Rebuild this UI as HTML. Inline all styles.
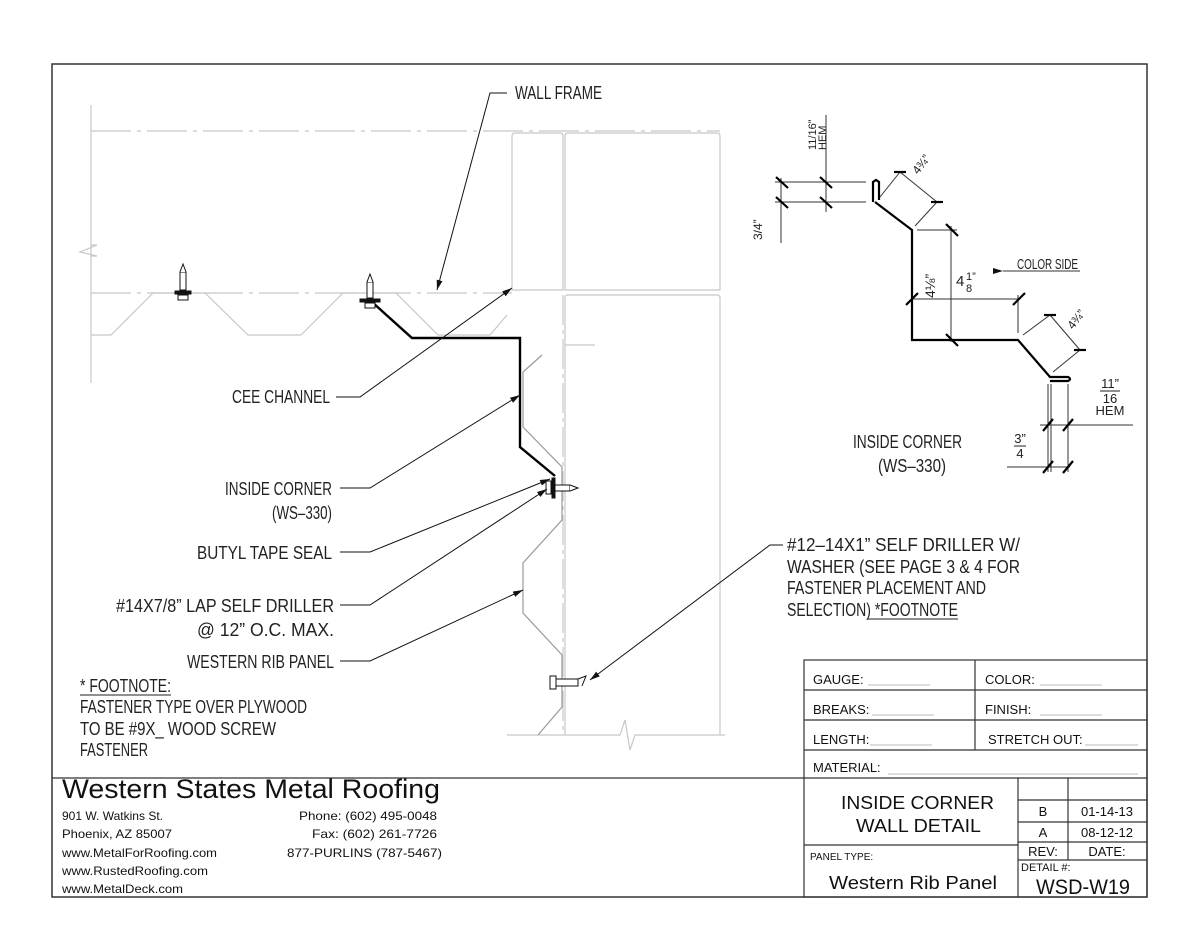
<!DOCTYPE html>
<html><head><meta charset="utf-8"><style>
html,body{margin:0;padding:0;background:#fff}
svg{display:block}
.c{font-family:"Liberation Sans",sans-serif;font-size:18px;fill:#222}
.s{font-family:"Liberation Sans",sans-serif;fill:#111}
</style></head><body>
<svg width="1200" height="927" viewBox="0 0 1200 927" xmlns="http://www.w3.org/2000/svg">
<defs>
<marker id="ar" viewBox="0 0 10 6" refX="10" refY="3" markerWidth="10" markerHeight="6" markerUnits="userSpaceOnUse" orient="auto"><path d="M0,0 L10,3 L0,6 z" fill="#111"/></marker>
</defs>
<rect x="52" y="64" width="1095" height="833" fill="none" stroke="#333" stroke-width="1.5"/>

<g stroke="#c8c8c8" stroke-width="1.2" fill="none">
<line x1="91" y1="105" x2="91" y2="383"/>
<path d="M91,245 L97,245 L80,252 L97,256 L91,256"/>
<line x1="91" y1="131" x2="720" y2="131" stroke-dasharray="40,6,4,6"/>
<line x1="91" y1="293" x2="512" y2="293" stroke-dasharray="40,6,4,6"/>
<path d="M91,335 L111,335 L153,293 L205,293 L248,335 L301,335 L343,293 L396,293 L438,335 L490,335 L507,315"/>
<path d="M512,290 L512,136 Q512,133 515,133 L560,133 Q563,133 563,136 L563,290 Z"/>
<path d="M565,290 L565,136 Q565,133 568,133 L717,133 Q720,133 720,136 L720,290 Z"/>
<path d="M565,735 L565,298 Q565,295 568,295 L717,295 Q720,295 720,298 L720,735"/>
<line x1="565" y1="345" x2="595" y2="345"/>
<line x1="563" y1="295" x2="563" y2="735" stroke-dasharray="30,5,4,5"/>
<path d="M507,735 L620,735 L625,720 L630,750 L635,735 L725,735"/>
</g>
<g stroke="#999" stroke-width="1.2" fill="none">
<path d="M542,355 L523,372 L523,427 L562,467 L562,520 L523,563 L523,613 L562,655 L562,707 L538,735"/>
</g>

<path d="M372,302 L412,338 L520,338 L520,447 L555,476" fill="none" stroke="#000" stroke-width="2.4"/>

<g stroke="#111" stroke-width="1" fill="#fff">
<rect x="180" y="272" width="6" height="18"/><path d="M180,272 L183,264 L186,272"/>
<rect x="175" y="291" width="16" height="3" fill="#111"/><rect x="178" y="295" width="10" height="5"/>
<rect x="367" y="282" width="6" height="16"/><path d="M367,282 L370,274 L373,282"/>
<rect x="360" y="299" width="20" height="3" fill="#111"/><rect x="365" y="303" width="10" height="5"/>
<rect x="546" y="481" width="5" height="13"/><rect x="552" y="478" width="3" height="20" fill="#111"/>
<rect x="555" y="485" width="15" height="6"/><path d="M570,485 L578,488 L570,491"/>
<rect x="550" y="676" width="6" height="13"/><rect x="556" y="679" width="22" height="7"/><path d="M578,679 L586,676 L582,686"/>
</g>

<g stroke="#111" stroke-width="1" fill="none">
<path d="M507,93 L490,93 L437,290" marker-end="url(#ar)"/>
<path d="M336,397 L360,397 L512,288" marker-end="url(#ar)"/>
<path d="M340,488 L370,488 L520,395" marker-end="url(#ar)"/>
<path d="M340,552 L370,552 L550,479" marker-end="url(#ar)"/>
<path d="M340,605 L370,605 L547,489" marker-end="url(#ar)"/>
<path d="M340,661 L370,661 L523,590" marker-end="url(#ar)"/>
<path d="M783,545 L770,545 L590,680" marker-end="url(#ar)"/>
</g>

<g class="c">
<text x="515" y="99" textLength="87" lengthAdjust="spacingAndGlyphs">WALL FRAME</text>
<text x="232" y="403" textLength="98" lengthAdjust="spacingAndGlyphs">CEE CHANNEL</text>
<text x="225" y="495" textLength="107" lengthAdjust="spacingAndGlyphs">INSIDE CORNER</text>
<text x="272" y="519" textLength="60" lengthAdjust="spacingAndGlyphs">(WS–330)</text>
<text x="197" y="559" textLength="135" lengthAdjust="spacingAndGlyphs">BUTYL TAPE SEAL</text>
<text x="116" y="612" textLength="218" lengthAdjust="spacingAndGlyphs">#14X7/8” LAP SELF DRILLER</text>
<text x="197" y="636" textLength="137" lengthAdjust="spacingAndGlyphs">@ 12” O.C. MAX.</text>
<text x="187" y="668" textLength="147" lengthAdjust="spacingAndGlyphs">WESTERN RIB PANEL</text>
<text x="80" y="692" textLength="91" lengthAdjust="spacingAndGlyphs">* FOOTNOTE:</text>
<text x="80" y="713" textLength="227" lengthAdjust="spacingAndGlyphs">FASTENER TYPE OVER PLYWOOD</text>
<text x="80" y="735" textLength="196" lengthAdjust="spacingAndGlyphs">TO BE #9X_ WOOD SCREW</text>
<text x="80" y="756" textLength="68" lengthAdjust="spacingAndGlyphs">FASTENER</text>
<text x="787" y="551" textLength="233" lengthAdjust="spacingAndGlyphs">#12–14X1” SELF DRILLER W/</text>
<text x="787" y="573" textLength="233" lengthAdjust="spacingAndGlyphs">WASHER (SEE PAGE 3 &amp; 4 FOR</text>
<text x="787" y="594" textLength="199" lengthAdjust="spacingAndGlyphs">FASTENER PLACEMENT AND</text>
<text x="787" y="616" textLength="171" lengthAdjust="spacingAndGlyphs">SELECTION) *FOOTNOTE</text>
</g>
<line x1="80" y1="695" x2="171" y2="695" stroke="#222"/>
<line x1="868" y1="619" x2="958" y2="619" stroke="#222"/>

<g fill="none" stroke="#000" stroke-width="2.2">
<path d="M873,202 L873,182 L876,180 L879,182 L879,200"/>
<path d="M875,202 L912,230 L912,340 L1018,340 L1050,377 L1068,377 Q1072,379 1068,381 L1050,381"/>
</g>
<g fill="none" stroke="#333" stroke-width="1">
<line x1="775" y1="182" x2="866" y2="182"/><line x1="775" y1="202" x2="866" y2="202"/>
<line x1="781" y1="178" x2="781" y2="243"/><line x1="826" y1="115" x2="826" y2="212"/>
<line x1="880" y1="197" x2="900" y2="172"/><line x1="900" y1="172" x2="937" y2="202"/><line x1="915" y1="226" x2="937" y2="202"/>
<line x1="917" y1="230" x2="957" y2="230"/><line x1="951" y1="226" x2="951" y2="342"/>
<line x1="912" y1="299" x2="1020" y2="299"/><line x1="1018" y1="295" x2="1018" y2="333"/>
<line x1="1023" y1="335" x2="1050" y2="315"/><line x1="1050" y1="315" x2="1080" y2="350"/><line x1="1053" y1="372" x2="1080" y2="350"/>
<line x1="1048" y1="384" x2="1048" y2="472"/><line x1="1051" y1="384" x2="1051" y2="472"/><line x1="1068" y1="384" x2="1068" y2="472"/>
<line x1="1040" y1="425" x2="1133" y2="425"/><line x1="1007" y1="467" x2="1070" y2="467"/>
<line x1="1003" y1="271" x2="1080" y2="271" marker-start="url(#ar)"/>
</g>
<g stroke="#000" stroke-width="2.2">
<line x1="776" y1="177" x2="788" y2="188"/><line x1="776" y1="197" x2="788" y2="208"/>
<line x1="820" y1="177" x2="832" y2="188"/><line x1="820" y1="197" x2="832" y2="208"/>
<line x1="894" y1="172" x2="906" y2="172"/><line x1="931" y1="202" x2="943" y2="202"/>
<line x1="946" y1="224" x2="958" y2="236"/><line x1="946" y1="334" x2="958" y2="346"/>
<line x1="906" y1="305" x2="918" y2="293"/><line x1="1013" y1="305" x2="1025" y2="293"/>
<line x1="1044" y1="315" x2="1056" y2="315"/><line x1="1074" y1="350" x2="1086" y2="350"/>
<line x1="1043" y1="431" x2="1053" y2="419"/><line x1="1063" y1="431" x2="1073" y2="419"/>
<line x1="1043" y1="473" x2="1053" y2="461"/><line x1="1063" y1="473" x2="1073" y2="461"/>
</g>
<g class="c" font-size="13">
<text x="1017" y="269" font-size="15" textLength="61" lengthAdjust="spacingAndGlyphs">COLOR SIDE</text>
<text x="853" y="448" font-size="18" textLength="109" lengthAdjust="spacingAndGlyphs">INSIDE CORNER</text>
<text x="878" y="472" font-size="18" textLength="68" lengthAdjust="spacingAndGlyphs">(WS–330)</text>
<text x="1110" y="388" text-anchor="middle" font-size="13">11”</text>
<line x1="1100" y1="391" x2="1120" y2="391" stroke="#222"/>
<text x="1110" y="403" text-anchor="middle" font-size="13">16</text>
<text x="1110" y="415" text-anchor="middle" font-size="13">HEM</text>
<text x="1020" y="443" text-anchor="middle" font-size="13">3”</text>
<line x1="1014" y1="446" x2="1026" y2="446" stroke="#222"/>
<text x="1020" y="458" text-anchor="middle" font-size="13">4</text>
<text x="956" y="286" font-size="15">4</text><text x="966" y="280" font-size="11">1”</text><text x="966" y="292" font-size="11">8</text>
<g transform="translate(935,298) rotate(-90)"><text x="0" y="0" font-size="14">4⅛”</text></g>
<g transform="translate(762,240) rotate(-90)"><text x="0" y="0" font-size="12">3/4”</text></g>
<g transform="translate(816,150) rotate(-90)"><text x="0" y="0" font-size="11">11/16”</text><text x="0" y="10" font-size="11">HEM</text></g>
<g transform="translate(918,175) rotate(-52)"><text x="0" y="0" font-size="12">4¾”</text></g>
<g transform="translate(1073,330) rotate(-52)"><text x="0" y="0" font-size="12">4¾”</text></g>
</g>

<g stroke="#333" stroke-width="1.2" fill="none">
<line x1="52" y1="778" x2="1147" y2="778"/>
<rect x="804" y="660" width="343" height="237"/>
<line x1="804" y1="690" x2="1147" y2="690"/><line x1="804" y1="720" x2="1147" y2="720"/><line x1="804" y1="750" x2="1147" y2="750"/>
<line x1="975" y1="660" x2="975" y2="750"/>
<line x1="1018" y1="778" x2="1018" y2="897"/><line x1="1068" y1="778" x2="1068" y2="860"/>
<line x1="1018" y1="800" x2="1147" y2="800"/><line x1="1018" y1="822" x2="1147" y2="822"/><line x1="1018" y1="842" x2="1147" y2="842"/><line x1="1018" y1="860" x2="1147" y2="860"/>
<line x1="804" y1="845" x2="1018" y2="845"/>
</g>
<g stroke="#bbb" stroke-width="1">
<line x1="868" y1="685" x2="930" y2="685"/><line x1="1040" y1="685" x2="1102" y2="685"/>
<line x1="872" y1="715" x2="934" y2="715"/><line x1="1040" y1="715" x2="1102" y2="715"/>
<line x1="870" y1="745" x2="932" y2="745"/><line x1="1085" y1="745" x2="1138" y2="745"/>
<line x1="888" y1="774" x2="1138" y2="774"/>
</g>
<g class="s" font-size="13">
<text x="813" y="684">GAUGE:</text><text x="985" y="684">COLOR:</text>
<text x="813" y="714">BREAKS:</text><text x="985" y="714">FINISH:</text>
<text x="813" y="744">LENGTH:</text><text x="988" y="744">STRETCH OUT:</text>
<text x="813" y="772">MATERIAL:</text>
<text x="62" y="798" font-size="27" textLength="378" lengthAdjust="spacingAndGlyphs">Western States Metal Roofing</text>
<text x="62" y="820" font-size="12" textLength="101" lengthAdjust="spacingAndGlyphs">901 W. Watkins St.</text>
<text x="62" y="838" font-size="12" textLength="110" lengthAdjust="spacingAndGlyphs">Phoenix, AZ 85007</text>
<text x="62" y="857" font-size="12" textLength="155" lengthAdjust="spacingAndGlyphs">www.MetalForRoofing.com</text>
<text x="62" y="875" font-size="12" textLength="146" lengthAdjust="spacingAndGlyphs">www.RustedRoofing.com</text>
<text x="62" y="893" font-size="12" textLength="121" lengthAdjust="spacingAndGlyphs">www.MetalDeck.com</text>
<text x="299" y="820" font-size="12" textLength="138" lengthAdjust="spacingAndGlyphs">Phone: (602) 495-0048</text>
<text x="312" y="838" font-size="12" textLength="125" lengthAdjust="spacingAndGlyphs">Fax: (602) 261-7726</text>
<text x="287" y="857" font-size="12" textLength="155" lengthAdjust="spacingAndGlyphs">877-PURLINS (787-5467)</text>
<text x="841" y="809" font-size="18" textLength="153" lengthAdjust="spacingAndGlyphs">INSIDE CORNER</text>
<text x="856" y="832" font-size="18" textLength="125" lengthAdjust="spacingAndGlyphs">WALL DETAIL</text>
<text x="810" y="860" font-size="10">PANEL TYPE:</text>
<text x="829" y="889" font-size="18" textLength="168" lengthAdjust="spacingAndGlyphs">Western Rib Panel</text>
<text x="1043" y="816" text-anchor="middle">B</text><text x="1107" y="816" text-anchor="middle">01-14-13</text>
<text x="1043" y="837" text-anchor="middle">A</text><text x="1107" y="837" text-anchor="middle">08-12-12</text>
<text x="1043" y="856" text-anchor="middle">REV:</text><text x="1107" y="856" text-anchor="middle">DATE:</text>
<text x="1021" y="871" font-size="11">DETAIL #:</text>
<text x="1036" y="894" font-size="21" textLength="94" lengthAdjust="spacingAndGlyphs">WSD-W19</text>
</g>
</svg>
</body></html>
